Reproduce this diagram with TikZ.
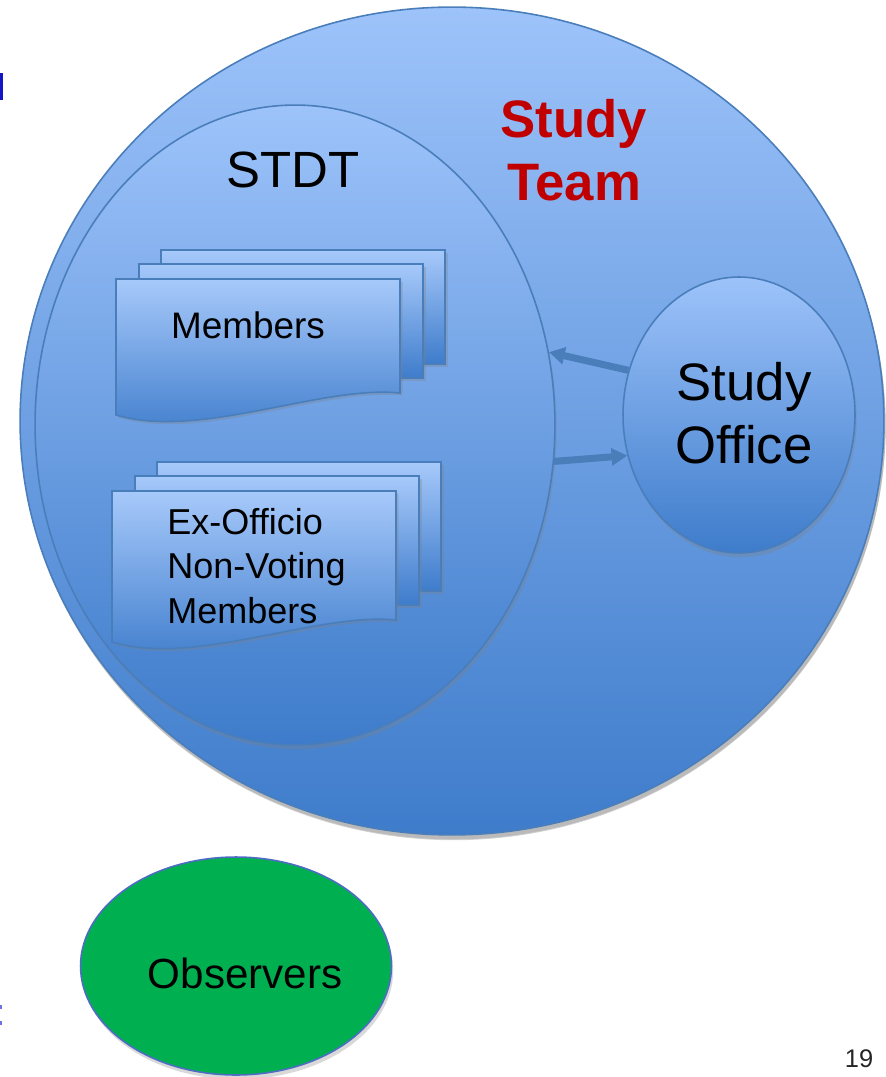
\documentclass[tikz,border=0pt]{standalone}
\usepackage{fontspec}
\setmainfont{Liberation Sans}
\usepackage{tikz}
\usetikzlibrary{arrows.meta,shapes.geometric,shadows}
\definecolor{paleblue}{HTML}{9DC3FA}
\definecolor{deepblue}{HTML}{3E7CCB}
\definecolor{edgeblue}{HTML}{4A7EBB}
\definecolor{teamred}{HTML}{C00000}
\definecolor{obsgreen}{HTML}{00B050}
\definecolor{obsedge}{HTML}{4F6CC4}
\definecolor{linkblue}{HTML}{1515C8}

\begin{document}
\begin{tikzpicture}[x=0.02cm,y=-0.02cm,
			bubble/.style={ellipse,draw=edgeblue,line width=0.9pt,top color=paleblue,bottom color=deepblue,inner sep=0pt,align=center,drop shadow={opacity=0.3,shadow xshift=1pt,shadow yshift=-2.5pt}},
			sheet/.style={draw=edgeblue,line width=0.9pt,top color=paleblue!90!white,bottom color=deepblue,drop shadow={opacity=0.3,shadow xshift=1.5pt,shadow yshift=-1.5pt}},
			link/.style={-{Triangle[length=9pt,width=9.5pt]},line width=4pt,edgeblue},
			ttl/.style={font=\fontsize{29}{34}\selectfont},
			big/.style={font=\fontsize{30}{35.5}\selectfont},
			mid/.style={font=\fontsize{21}{25.5}\selectfont}
			]
			\useasboundingbox (0,0) rectangle (885,1077);
			\fill[linkblue] (0,73) rectangle (3,100);
			\fill[linkblue!60] (0,1005) rectangle (1.5,1009);
			\fill[linkblue!60] (0,1021) rectangle (1.5,1025);
			\node[bubble,minimum width=17.28cm,minimum height=16.56cm,drop shadow={opacity=0.35,shadow xshift=1pt,shadow yshift=-3pt}] (team) at (452,421) {};
			\node[bubble] (stdt) at (295,425) [minimum width=10.4cm,minimum height=12.8cm] {};
			\node[bubble,minimum width=4.64cm,minimum height=5.52cm] (office) at (739,415) {};
			\node[ellipse,draw=obsedge,line width=0.9pt,fill=obsgreen,minimum width=6.22cm,minimum height=4.36cm,drop shadow={opacity=0.3,shadow xshift=1pt,shadow yshift=-2.5pt}] (observers) at (236,966) {};
			\foreach \sx/\sy/\sh in {116/279/114,112/491/129}{
				\path[sheet] (\sx+45,\sy-29) rectangle (\sx+329,\sy+\sh-29);
				\path[sheet] (\sx+23,\sy-15) rectangle (\sx+307,\sy+\sh-15);
				\path[sheet] (\sx,\sy) -- (\sx+284,\sy) -- (\sx+284,\sy+\sh) .. controls (\sx+204,\sy+\sh-8) and (\sx+84,\sy+\sh+47) .. (\sx,\sy+\sh+22) -- cycle;
			}
			\node[ttl,anchor=base] (stdtlabel) at (293,188) {STDT};
			\node[big,text=teamred,align=center] (teamlabel) at (574,150) {\bfseries Study\\\bfseries Team};
			\node[big,align=center] (officelabel) at (744,413) {Study\\Office};
			\node[font=\fontsize{24}{28}\selectfont,anchor=base] (observerslabel) at (245,988) {Observers};
			\node[mid] (members) at (248,325) {Members};
			\node[font=\fontsize{20.5}{25.5}\selectfont,align=left,anchor=west,inner sep=0pt] (exofficio) at (167,566) {Ex-Officio\\Non-Voting\\Members};
			\node[font=\fontsize{14.5}{17}\selectfont,anchor=base,text=black!85] (pagenum) at (859,1067) {19};
			\draw[link] (office.158) -- (stdt.16);
			\draw[link] (stdt.-8) -- (office.200);
		\end{tikzpicture}
\end{document}
